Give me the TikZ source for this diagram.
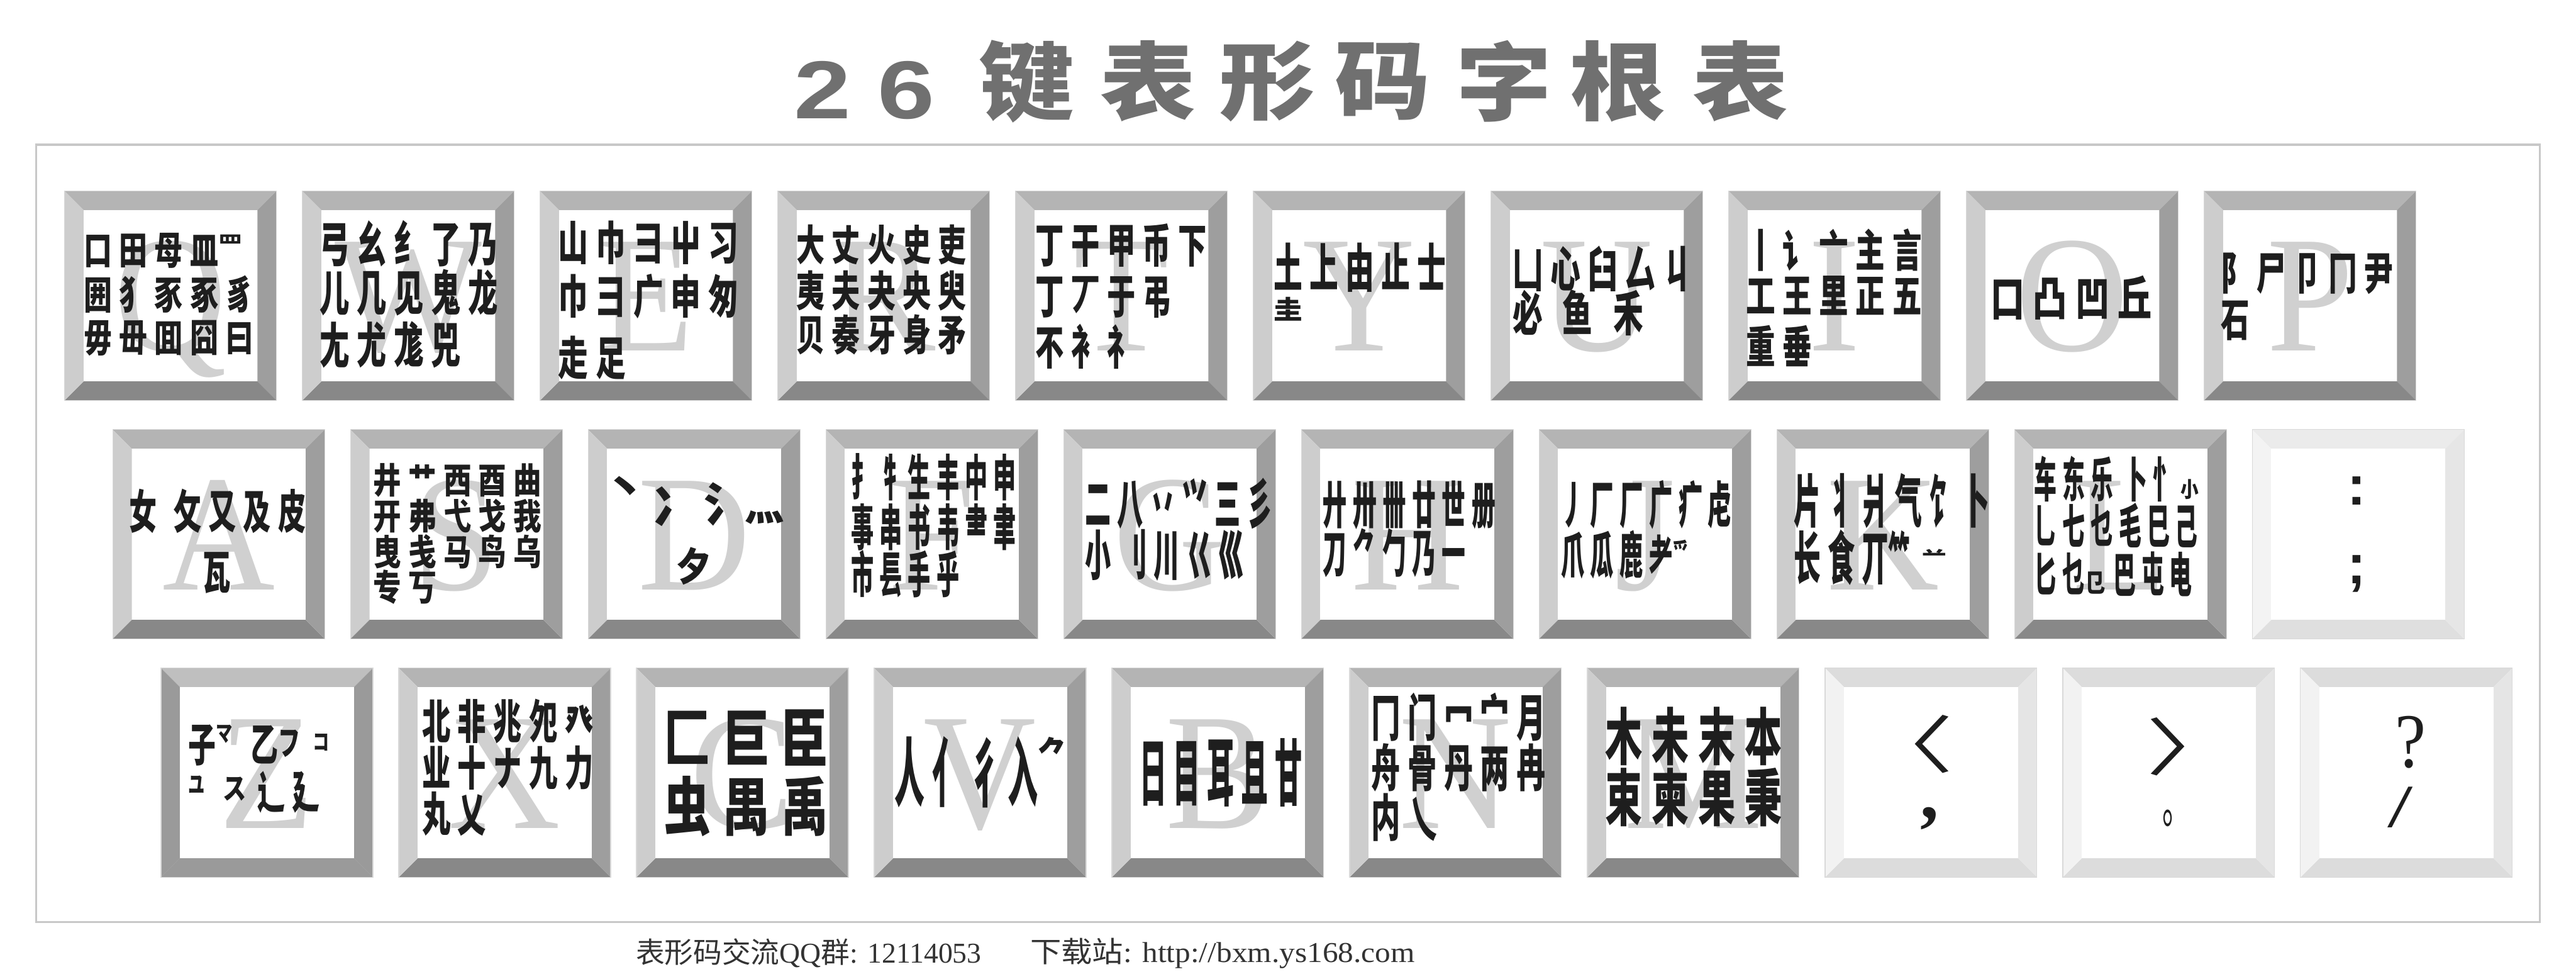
\documentclass[tikz,border=0pt]{standalone}
\usepackage{fontspec}
\usepackage{graphicx}
\newfontfamily\cjk[LetterSpace=25]{Noto Sans CJK SC}
\newfontfamily\cjkp{Noto Sans CJK SC}
\newfontfamily\lser{Liberation Serif}
\newfontfamily\lsans{Liberation Sans}
\definecolor{ktop}{HTML}{B4B4B4}
\definecolor{kleft}{HTML}{CDCDCD}
\definecolor{kright}{HTML}{9E9E9E}
\definecolor{kbot}{HTML}{888888}
\definecolor{ztop}{HTML}{BFBFBF}
\definecolor{zside}{HTML}{9A9A9A}
\definecolor{ptop}{HTML}{EBEBEB}
\definecolor{pleft}{HTML}{F3F3F3}
\definecolor{pright}{HTML}{E6E6E6}
\definecolor{pbot}{HTML}{DFDFDF}
\definecolor{ctop}{HTML}{DCDCDC}
\definecolor{cleft}{HTML}{F2F2F2}
\definecolor{cright}{HTML}{E5E5E5}
\definecolor{cbot}{HTML}{DCDCDC}
\definecolor{letc}{HTML}{D0D0D0}
\definecolor{inkc}{HTML}{1E1E1E}
\definecolor{titlec}{HTML}{707070}
\definecolor{framec}{HTML}{C8C8C8}
\definecolor{footc}{HTML}{333333}
\tikzset{
  kline/.style={inner sep=0pt, outer sep=0pt, font=\cjk\bfseries, text=inkc, anchor=base west},
  glyph/.style={inner sep=0pt, outer sep=0pt, font=\cjkp\bfseries, text=inkc},
  bigl/.style={inner sep=0pt, outer sep=0pt, font=\lser\fontsize{101mm}{101mm}\selectfont, text=letc, anchor=base},
  titlech/.style={inner sep=0pt, outer sep=0pt, text=titlec},
  keyedge/.style={draw=white!85!black, line width=0.4mm},
}
% key: x, y(top), top, left, right, bottom colours
\newcommand\drawkey[6]{%
  \fill[#3] (#1,#2) -- (#1+129,#2) -- (#1+117.4,#2+11.6) -- (#1+11.6,#2+11.6) -- cycle;
  \fill[#6] (#1,#2+127.3) -- (#1+129,#2+127.3) -- (#1+117.4,#2+115.7) -- (#1+11.6,#2+115.7) -- cycle;
  \fill[#4] (#1,#2) -- (#1+11.6,#2+11.6) -- (#1+11.6,#2+115.7) -- (#1,#2+127.3) -- cycle;
  \fill[#5] (#1+129,#2) -- (#1+117.4,#2+11.6) -- (#1+117.4,#2+115.7) -- (#1+129,#2+127.3) -- cycle;
  \fill[white] (#1+11.6,#2+11.6) rectangle (#1+117.4,#2+115.7);
  \draw[keyedge] (#1,#2) rectangle (#1+129,#2+127.3);
}
\newcommand\stdkey[2]{\drawkey{#1}{#2}{ktop}{kleft}{kright}{kbot}}
\newcommand\bigletter[4]{\node[bigl] (#1) at (#2+64.5,#3+97.3) {\scalebox{0.94}[1]{#4}};}
% line of radicals: name, x, baseline y, font size (mm), x-scale, text
\newcommand\kl[6]{\node[kline] (#1) at (#2,#3) {\scalebox{#5}[1]{\fontsize{#4mm}{#4mm}\selectfont #6}};}
% small glyph in one cell: raise, xs, ys, char
\newcommand\sm[4]{\makebox[1.25em][l]{\raisebox{#1}{\scalebox{#2}[#3]{#4}}}}
\begin{document}
\begin{tikzpicture}[x=1mm,y=-1mm]
\useasboundingbox (0,0) rectangle (1568,595.4);
\fill[white] (0,0) rectangle (1568,595.4);

% title
\node[titlech, anchor=base] (t2) at (500.7,72.2) {\lsans\bfseries\fontsize{50mm}{50mm}\selectfont\scalebox{1.25}[1]{2}};
\node[titlech, anchor=base] (t6) at (551.5,72.2) {\lsans\bfseries\fontsize{50mm}{50mm}\selectfont\scalebox{1.25}[1]{6}};
\foreach \cx/\ch [count=\i] in {624.8/键,698.8/表,771.5/形,841.8/码,915.5/字,984.8/根,1059.5/表}{
  \node[titlech, anchor=center] (tc\i) at (\cx,49.5) {\cjkp\bfseries\fontsize{52mm}{52mm}\selectfont\scalebox{1.12}[1]{\ch}};
}

% frame
\draw[framec, line width=1.3mm] (22,88) rectangle (1546,561);

% keys row 1
\foreach \x in {39.3,184.0,328.7,473.4,618.1,762.8,907.5,1052.2,1196.9,1341.6}{\stdkey{\x}{116.3}}
% row 2
\foreach \x in {68.6,213.3,358.0,502.7,647.4,792.1,936.8,1081.5,1226.2}{\stdkey{\x}{261.4}}
\drawkey{1370.9}{261.4}{ptop}{pleft}{pright}{pbot}
% row 3
\drawkey{98.0}{406.5}{ztop}{zside}{zside}{zside}
\foreach \x in {242.7,387.4,532.1,676.8,821.5,966.2}{\stdkey{\x}{406.5}}
\foreach \x in {1110.9,1255.6,1400.3}{\drawkey{\x}{406.5}{ctop}{cleft}{cright}{cbot}}

% big letters
\bigletter{LQ}{39.3}{116.3}{Q}\bigletter{LW}{184.0}{116.3}{W}\bigletter{LE}{328.7}{116.3}{E}
\bigletter{LR}{473.4}{116.3}{R}\bigletter{LT}{618.1}{116.3}{T}\bigletter{LY}{762.8}{116.3}{Y}
\bigletter{LU}{907.5}{116.3}{U}\bigletter{LI}{1052.2}{116.3}{I}\bigletter{LO}{1196.9}{116.3}{O}
\bigletter{LP}{1341.6}{116.3}{P}
\bigletter{LA}{68.6}{261.4}{A}\bigletter{LS}{213.3}{261.4}{S}\bigletter{LD}{358.0}{261.4}{D}
\bigletter{LF}{502.7}{261.4}{F}\bigletter{LG}{647.4}{261.4}{G}\bigletter{LH}{792.1}{261.4}{H}
\bigletter{LJ}{936.8}{261.4}{J}\bigletter{LK}{1081.5}{261.4}{K}\bigletter{LL}{1226.2}{261.4}{L}
\bigletter{LZ}{98.0}{406.5}{Z}\bigletter{LX}{242.7}{406.5}{X}\bigletter{LC}{387.4}{406.5}{C}
\bigletter{LV}{532.1}{406.5}{V}\bigletter{LB}{676.8}{406.5}{B}\bigletter{LN}{821.5}{406.5}{N}
\bigletter{LM}{966.2}{406.5}{M}

% ---- radicals row 1
\kl{qa}{51.1}{161.0}{23.6}{0.73}{口田母皿\sm{0.3em}{0.85}{0.6}{罒}}
\kl{qb}{51.1}{188.0}{23.6}{0.73}{囲犭豕豖豸}
\kl{qc}{51.1}{214.1}{23.6}{0.73}{毋毌囬囧曰}
\kl{wa}{194.5}{159.5}{29.5}{0.613}{弓幺纟了乃}
\kl{wb}{194.5}{189.4}{29.5}{0.613}{儿几见鬼龙}
\kl{wc}{194.5}{221.0}{29.5}{0.613}{尢尤尨兕}
\kl{ea}{339.8}{158.2}{28}{0.654}{山巾彐屮习}
\kl{eb}{339.8}{191.0}{28}{0.654}{巾⺕广申匆}
\kl{ec}{339.8}{228.5}{28}{0.654}{走足}
\kl{ra}{484.8}{158.8}{25.7}{0.672}{大丈火史吏}
\kl{rb}{484.8}{186.6}{25.7}{0.672}{夷夫夬央臾}
\kl{rc}{484.8}{213.4}{25.7}{0.672}{贝奏牙身矛}
\kl{ta}{630.4}{160.0}{28.4}{0.611}{丁干甲币下}
\kl{tb}{630.4}{190.7}{28.4}{0.611}{丁丆于弔}
\kl{tc}{630.4}{221.9}{28.4}{0.611}{不衤礻}
\kl{ya}{775.2}{174.9}{31.6}{0.554}{土上由止士}
\kl{yb}{775.2}{194.2}{31.6}{0.554}{\scalebox{1}[0.5]{圭}}
\kl{ua}{920.8}{174.7}{29.2}{0.627}{凵心臼厶丩}
\kl{ub}{920.8}{201.6}{29.2}{0.627}{\makebox[1.66em][l]{必}\makebox[1.68em][l]{鱼}禾}
\kl{ia}{1062.7}{162.6}{27}{0.661}{丨讠亠主言}
\kl{ib}{1062.7}{189.9}{27}{0.661}{工王里正五}
\kl{ic}{1062.7}{221.1}{27}{0.661}{重垂}
\kl{oa}{1211.6}{192.4}{29}{0.714}{口凸凹丘}
\kl{pa}{1351.9}{176.1}{27.3}{0.639}{阝尸卩冂尹}
\kl{pb}{1351.9}{204.7}{27.3}{0.639}{石}

% ---- row 2
\kl{aa}{78.7}{321.7}{28.2}{0.6}{\makebox[1.6em][l]{女}攵又及皮}
\kl{ab}{123.3}{358.4}{28.2}{0.6}{瓦}
\kl{sa}{227.3}{300.4}{21.6}{0.79}{井艹西酉曲}
\kl{sb}{227.3}{322.2}{21.6}{0.79}{开弗弋戈我}
\kl{sc}{227.3}{344.0}{21.6}{0.79}{曳戋马鸟乌}
\kl{sd}{227.3}{365.3}{21.6}{0.79}{专丂}
\node[glyph] (da) at (380.5,298) {\fontsize{26mm}{26mm}\selectfont 丶};
\node[glyph] (db) at (411.5,308.3) {\fontsize{29mm}{29mm}\selectfont 冫};
\node[glyph] (dc) at (442.7,306.8) {\fontsize{28mm}{28mm}\selectfont 氵};
\node[glyph] (dd) at (465.5,314.7) {\fontsize{24mm}{24mm}\selectfont 灬};
\node[glyph] (de) at (422.5,344.3) {\fontsize{24mm}{24mm}\selectfont\scalebox{0.9}[1]{夕}};
\kl{fa}{518.2}{301.9}{30}{0.461}{扌牜生丰中申}
\kl{fb}{518.2}{331.9}{30}{0.461}{事串书韦⺻聿}
\kl{fc}{518.2}{360.8}{30}{0.461}{市镸手乎}
\kl{ga}{660.5}{318.8}{33}{0.478}{二八丷⺍三彡}
\kl{gb}{660.5}{350.0}{33}{0.478}{小\hspace{0.4em}刂川巜巛}
\kl{ha}{805.4}{318.5}{31}{0.467}{廾卅卌廿世册}
\kl{hb}{805.4}{348.3}{31}{0.467}{刀⺈勹乃一}
\kl{ja}{950.2}{318.6}{30.7}{0.466}{丿厂厂广疒虍}
\kl{jb}{950.2}{349.2}{30.7}{0.466}{爪瓜鹿耂\sm{0.25em}{0.7}{0.5}{爫}}
\kl{ka}{1092.1}{317.8}{35}{0.469}{片丬爿气饣卜}
\kl{kb}{1092.1}{352.8}{35}{0.469}{长食丌\sm{0em}{0.8}{1}{⺮}\sm{0.32em}{0.9}{0.35}{䒑}}
\kl{la}{1238.2}{302.5}{29}{0.474}{车东乐\hspace{0.5em}卜忄\hspace{0.25em}\sm{0em}{0.8}{0.45}{小}}
\kl{lb}{1238.2}{331.0}{29}{0.474}{乚七乜毛巳己}
\kl{lc}{1238.2}{360.6}{29}{0.474}{匕乜\sm{0em}{0.9}{0.55}{㔾}巴屯电}
\node[glyph, font=\lsans\bfseries\fontsize{34mm}{34mm}\selectfont] (colon) at (1434.5,298.5) {:};
\node[glyph, font=\lsans\bfseries\fontsize{34mm}{34mm}\selectfont] (semi) at (1434.5,349) {;};

% ---- row 3
\kl{za}{114.8}{463.5}{27.7}{0.607}{子\sm{0.45em}{0.6}{0.5}{マ}乙\sm{0.14em}{0.8}{0.75}{フ}\sm{0.25em}{0.6}{0.5}{コ}}
\kl{zb}{114.8}{492.1}{27.7}{0.607}{\sm{0.33em}{0.6}{0.55}{ユ}\sm{0.21em}{0.85}{0.65}{ス}辶廴}
\kl{xa}{257.0}{449.7}{28.4}{0.611}{北非兆夗癶}
\kl{xb}{257.0}{477.9}{28.4}{0.611}{业十ナ九力}
\kl{xc}{257.0}{505.7}{28.4}{0.611}{丸乂}
\kl{ca}{404.2}{463.5}{38.6}{0.742}{匚巨臣}
\kl{cb}{404.2}{505.0}{38.6}{0.742}{虫禺禹}
\kl{va}{544.6}{487.0}{45.5}{0.404}{人亻彳入\raisebox{0.42em}{\scalebox{1}[0.5]{⺈}}}
\kl{ba}{693.7}{486.6}{44.3}{0.372}{日目耳且甘}
\kl{na}{834.6}{447.9}{30.7}{0.578}{冂门冖宀月}
\kl{nb}{834.6}{478.7}{30.7}{0.578}{舟骨丹两冉}
\kl{nc}{834.6}{509.0}{30.7}{0.578}{内\hspace{0.3em}乀}
\kl{ma}{977.2}{462.4}{37.5}{0.604}{木未末本}
\kl{mb}{977.2}{499.5}{37.5}{0.604}{束柬果秉}
\node[glyph, font=\cjkp] (lt1) at (1160.5,452.8) {\fontsize{38mm}{38mm}\selectfont\scalebox{1.5}[1]{〈}};
\node[glyph, font=\lser\bfseries\fontsize{45mm}{45mm}\selectfont] (lt2) at (1174.5,498) {,};
\node[glyph, font=\cjkp] (gt1) at (1335,454.3) {\fontsize{38mm}{38mm}\selectfont\scalebox{1.5}[1]{〉}};
\node[glyph, font=\cjkp] (gt2) at (1324.5,498) {\fontsize{24mm}{24mm}\selectfont\scalebox{0.7}[1.4]{。}};
\node[glyph, font=\lser\fontsize{47mm}{47mm}\selectfont] (qm1) at (1467.3,451.5) {\scalebox{0.9}[1]{?}};
\node[glyph, font=\lser\fontsize{37mm}{37mm}\selectfont] (qm2) at (1461,491.2) {\scalebox{1.5}[1]{/}};

% footer
\node[inner sep=0pt, anchor=west, text=footc] (f1) at (387,580) {\fontsize{17.5mm}{17.5mm}\selectfont{\cjkp 表形码交流}\lser QQ{\cjkp 群}: 12114053};
\node[inner sep=0pt, anchor=west, text=footc] (f2) at (627,580) {\scalebox{1.08}[1]{\fontsize{17.5mm}{17.5mm}\selectfont{\cjkp 下载站}\lser : http://bxm.ys168.com}};
\end{tikzpicture}
\end{document}
